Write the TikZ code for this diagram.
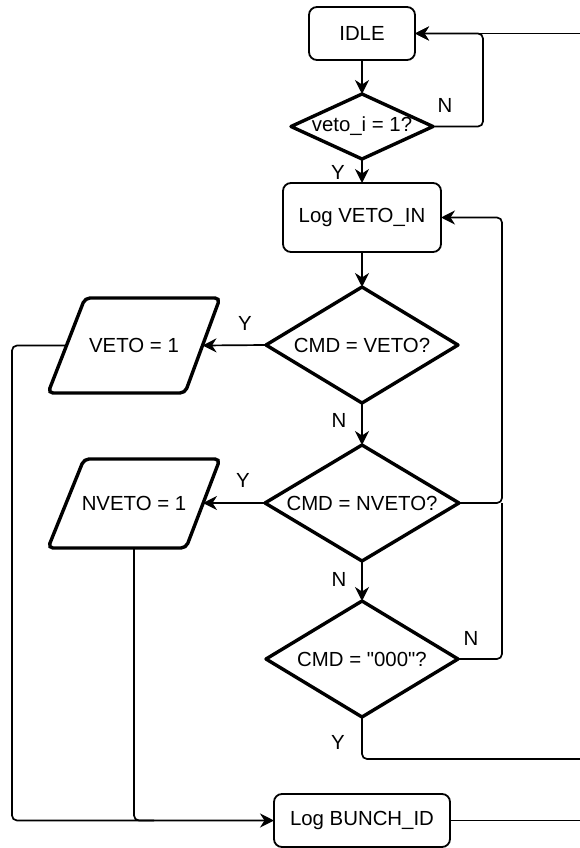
\documentclass[tikz,border=0pt]{standalone}
\usepackage{fontspec}
\setmainfont{Liberation Sans}
\newfontfamily\plainquote{Liberation Sans}[Ligatures=TeXOff]
\usetikzlibrary{shapes.geometric,arrows.meta,calc}
\begin{document}
\begin{tikzpicture}[x=1pt,y=-1pt,
  font=\fontsize{20.4}{24}\selectfont,
  proc/.style={draw,line width=1.8pt,rounded corners=8pt,inner sep=0pt,outer sep=0pt,fill=white},
  dec/.style={diamond,draw,line width=3.4pt,line join=round,inner sep=0pt,outer sep=0pt,fill=white},
  paratext/.style={inner sep=0pt},
  parashape/.style={draw,line width=3.4pt,rounded corners=5pt,fill=white},
  conn/.style={line width=1.7pt,rounded corners=5pt},
  arr/.style={conn,-{Stealth[length=14pt,width=14pt,inset=4.5pt]}},
  lbl/.style={inner sep=0pt}]
\fill[white] (0,0) rectangle (580,848);
\useasboundingbox (0,0) rectangle (580,848);

% coordinates for free ends and bends
\coordinate (edge) at (580,0);
\coordinate (n1x) at (483,0);
\coordinate (rx) at (502,0);
\coordinate (lx) at (12,0);
\coordinate (yl) at (0,759);

% parallelograms (drawn shapes) with named side points
\draw[parashape] (85,298) -- (220,298) -- (185,393) -- (48,393) -- cycle;
\node[paratext] (veto) at (134,345.5) {VETO = 1};
\coordinate (vetoR) at (202.5,345.5);
\coordinate (vetoL) at (66.5,345.5);
\draw[parashape] (84,459) -- (220,459) -- (186,548) -- (48,548) -- cycle;
\node[paratext] (nveto) at (134,503) {NVETO = 1};
\coordinate (nvetoR) at (203,503);
\coordinate (nvetoB) at (134,548);

% main column connectors
\draw[arr] (362,60) -- (362,94);
\draw[arr] (362,159) -- (362,183);
\draw[arr] (362,252) -- (362,287);
\draw[arr] (362,403) -- (362,445);
\draw[arr] (362,561) -- (362,601);

% nodes
\node[proc,minimum width=106pt,minimum height=53pt] (idle) at (362,33.5) {IDLE};
\node[dec,aspect=2.18,minimum width=142pt,minimum height=65pt] (d1) at (362,126.5) {veto\_i = 1?};
\node[proc,minimum width=158pt,minimum height=69pt] (login) at (362,217.5) {Log VETO\_IN};
\node[dec,aspect=1.66,minimum width=192pt,minimum height=116pt] (d2) at (362,345) {CMD = VETO?};
\node[dec,aspect=1.66,minimum width=194pt,minimum height=116pt] (d3) at (362,503) {CMD = NVETO?};
\node[dec,aspect=1.66,minimum width=192pt,minimum height=116pt] (d4) at (362,659) {CMD = {\plainquote"000"}?};
\node[proc,minimum width=176pt,minimum height=53pt] (logb) at (362,820.5) {Log BUNCH\_ID};

% branch connectors
\draw[arr] (d2.west) -- (vetoR);
\draw[arr] (d3.west) -- (nvetoR);
\draw[arr] (d1.east) -- (d1.east -| n1x) -- (idle.east -| n1x) -- (idle.east);
\draw[arr] (idle.east -| edge) -- (idle.east);
\draw[arr] (d3.east) -- (d3.east -| rx) -- (login.east -| rx) -- (login.east);
\draw[conn] (d4.east) -- (d4.east -| rx) -- (d3.east -| rx);
\draw[conn] (d4.south) -- (d4.south |- yl) -- (yl -| edge);
\draw[conn] (logb.east) -- (logb.east -| edge);
\draw[arr] (vetoL) -- (vetoL -| lx) -- (logb.west -| lx) -- (logb.west);
\draw[conn] (nvetoB) -- (nvetoB |- logb.west) -- ($(nvetoB |- logb.west)+(20,0)$);

% labels
\node[lbl] (ln1) at (445,105) {N};
\node[lbl] (ly1) at (338,172) {Y};
\node[lbl] (ly2) at (245,323) {Y};
\node[lbl] (ln2) at (339,420) {N};
\node[lbl] (ly3) at (243,480) {Y};
\node[lbl] (ln3) at (339,579) {N};
\node[lbl] (ln4) at (471,638) {N};
\node[lbl] (ly4) at (338,742) {Y};
\end{tikzpicture}
\end{document}
